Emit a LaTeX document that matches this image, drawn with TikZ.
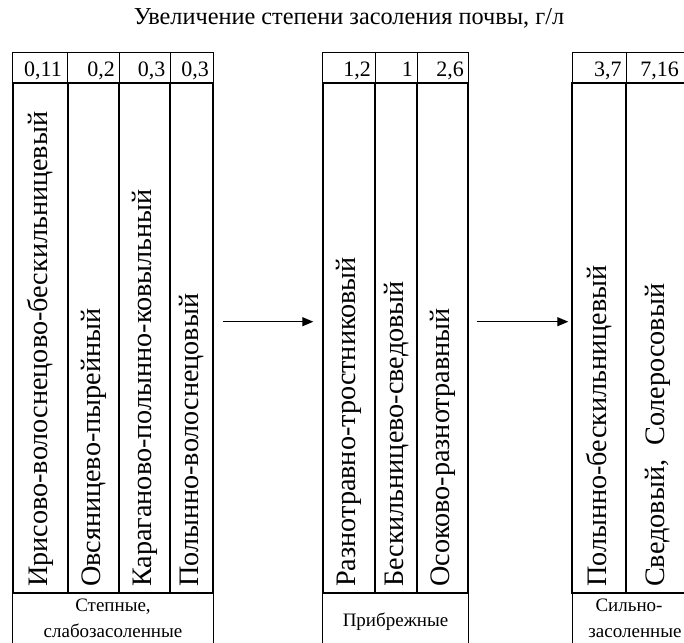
\documentclass[tikz,border=0pt]{standalone}
\usepackage{fontspec}
\setmainfont{Liberation Serif}
\usetikzlibrary{arrows.meta}
\begin{document}
\begin{tikzpicture}[x=1pt,y=-1pt,
 thinbox/.style={draw,line width=1pt},
 thickbox/.style={draw,line width=2pt},
 num/.style={anchor=base east,inner sep=0pt,font=\fontsize{22}{24}\selectfont},
 vtext/.style={rotate=90,anchor=west,inner sep=0pt,font=\fontsize{28.2}{30}\selectfont},
 lab/.style={anchor=base,inner sep=0pt,text depth=0pt,font=\fontsize{19}{22}\selectfont},
 arr/.style={line width=1.2pt,-{Triangle[length=11pt,width=9pt]}}]
\useasboundingbox (0,0) rectangle (684,642);
\clip (0,0) rectangle (684,642);
\node[font=\fontsize{24.3}{26}\selectfont,inner sep=0pt] (title) at (349,18) {Увеличение степени засоления почвы, г/л};
% group 1
\draw[thinbox] (12.7,52.7) rectangle (213.3,83);
\foreach \x in {67.7,119.3,170.3} \draw[thinbox] (\x,52.7) -- (\x,83);
\draw[thickbox] (12.7,83) rectangle (213.3,592.7);
\foreach \x in {67.7,119.3,170.3} \draw[thickbox] (\x,83) -- (\x,592.7);
\draw[thinbox] (12.7,592.7) rectangle (213.3,660);
\node[num] (n11) at (62,76.7) {0,11};
\node[num] (n12) at (115,76.7) {0,2};
\node[num] (n13) at (165.5,76.7) {0,3};
\node[num] (n14) at (209,76.7) {0,3};
\node[vtext] (t11) at (40.2,587) {Ирисово-волоснецово-бескильницевый};
\node[vtext] (t12) at (93.5,587) {Овсяницево-пырейный};
\node[vtext] (t13) at (144.8,587) {Караганово-полынно-ковыльный};
\node[vtext] (t14) at (191.8,587) {Полынно-волоснецовый};
\node[lab] (l1a) at (113,611.5) {Степные,};
\node[lab] (l1b) at (113,637) {слабозасоленные};
% group 2
\draw[thinbox] (322.7,52.7) rectangle (468.3,83);
\foreach \x in {375.3,417.3} \draw[thinbox] (\x,52.7) -- (\x,83);
\draw[thickbox] (322.7,83) rectangle (468.3,592.7);
\foreach \x in {375.3,417.3} \draw[thickbox] (\x,83) -- (\x,592.7);
\draw[thinbox] (322.7,592.7) rectangle (468.3,660);
\node[num] (n21) at (371,76.7) {1,2};
\node[num] (n22) at (413,76.7) {1};
\node[num] (n23) at (464,76.7) {2,6};
\node[vtext] (t21) at (349,587) {Разнотравно-тростниковый};
\node[vtext] (t22) at (396.3,587) {Бескильницево-сведовый};
\node[vtext] (t23) at (442.8,587) {Осоково-разнотравный};
\node[lab] (l2) at (395.5,626) {Прибрежные};
% group 3
\draw[thinbox] (572.3,52.7) rectangle (692,83);
\draw[thinbox] (626,52.7) -- (626,83);
\draw[thickbox] (572.3,83) rectangle (692,592.7);
\draw[thickbox] (626,83) -- (626,592.7);
\draw[thinbox] (572.3,592.7) rectangle (692,660);
\node[num] (n31) at (621.7,76.7) {3,7};
\node[num] (n32) at (679,76.7) {7,16};
\node[vtext] (t31) at (599.2,587) {Полынно-бескильницевый};
\node[vtext] (t32) at (658,587) {Сведовый,\ \ Солеросовый};
\node[lab] (l3a) at (629,611.5) {Сильно-};
\node[lab] (l3b) at (635,637) {засоленные};
% arrows
\coordinate (a1) at (222.7,321.7);
\coordinate (b1) at (313.3,321.7);
\coordinate (a2) at (476.7,321.7);
\coordinate (b2) at (568.3,321.7);
\draw[arr] (a1) -- (b1);
\draw[arr] (a2) -- (b2);
\end{tikzpicture}
\end{document}
